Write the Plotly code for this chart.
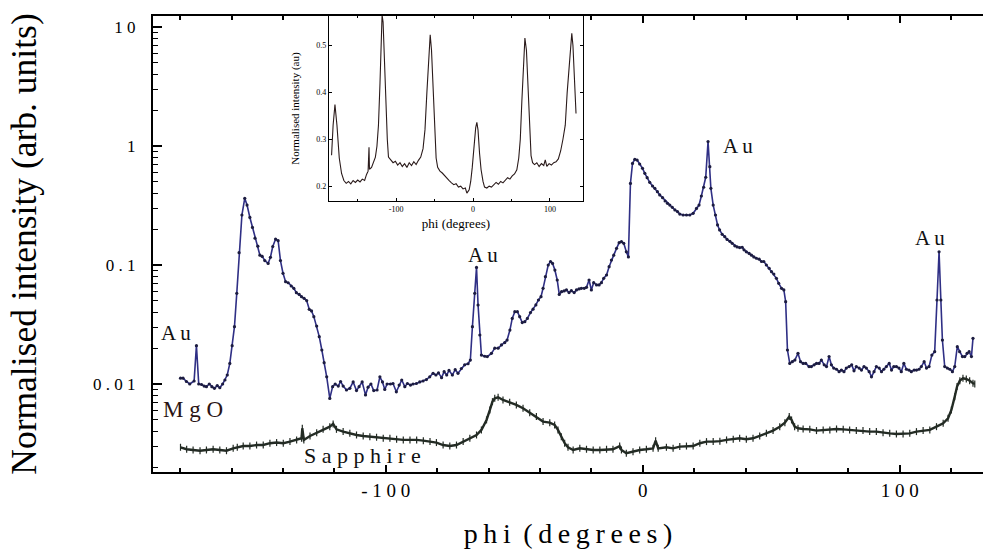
import math
import plotly.graph_objects as go

# ---------------- data ----------------
mgo_phi = [-179.9, -178.9, -177.6, -176.3, -174.6, -173.7, -172.8, -171.7, -170.7, -169.8,
           -168.7, -167.7, -166.7, -165.6, -164.6, -163.5, -162.6, -161.7, -160.7, -159.8,
           -158.9, -158.0, -157.1, -156.0, -154.9, -154.0, -152.9, -151.9, -150.9, -149.8,
           -149.0, -148.1, -147.1, -145.8, -144.9, -144.0, -142.9, -141.9, -141.0, -140.0,
           -139.0, -138.0, -136.8, -135.8, -134.8, -133.7, -132.8, -131.8, -130.8, -129.8,
           -128.9, -128.0, -126.9, -125.9, -124.9, -124.0, -123.0, -121.8, -120.7, -119.7,
           -118.5, -117.6, -116.6, -115.3, -114.0, -112.7, -111.4, -110.4, -109.2, -107.9,
           -106.9, -105.8, -104.7, -103.4, -102.3, -101.3, -100.4, -99.5, -98.2, -97.2,
           -95.9, -94.8, -93.8, -92.6, -91.6, -90.4, -89.4, -88.1, -86.8, -85.5,
           -84.2, -82.9, -81.6, -80.5, -79.5, -78.3, -77.3, -76.3, -75.4, -74.1,
           -73.0, -71.9, -70.6, -69.3, -68.0, -67.1, -66.3, -65.4, -64.7, -64.1,
           -63.4, -62.8, -61.5, -60.5, -58.9, -57.6, -56.3, -55.0, -53.7, -52.8,
           -51.7, -50.8, -49.8, -48.8, -47.9, -46.9, -45.9, -44.9, -43.7, -42.7,
           -41.6, -40.6, -39.6, -38.8, -37.9, -36.8, -35.9, -35.1, -34.2, -33.3,
           -32.5, -31.6, -30.6, -29.7, -28.7, -27.8, -26.7, -25.8, -24.8, -23.9,
           -22.8, -21.9, -20.9, -20.0, -19.1, -18.0, -17.0, -16.1, -15.2, -14.1,
           -13.1, -12.2, -11.3, -10.2, -9.2, -8.3, -7.4, -6.4, -5.6, -4.8,
           -4.0, -3.1, -2.2, -1.2, -0.1, 0.8, 1.7, 2.7, 3.8, 4.7,
           5.7, 6.6, 7.7, 8.7, 9.6, 10.5, 11.5, 12.5, 13.5, 14.4,
           15.7, 17.0, 18.3, 19.6, 20.9, 21.9, 22.8, 23.7, 24.5, 25.4,
           26.1, 26.5, 27.4, 28.3, 29.1, 29.9, 30.9, 31.9, 32.8, 33.9,
           34.8, 35.8, 36.7, 37.7, 38.7, 39.4, 40.3, 41.4, 42.3, 43.2,
           44.2, 45.3, 46.2, 47.1, 48.1, 49.2, 50.1, 51.0, 52.0, 52.9,
           54.0, 54.9, 55.6, 56.3, 57.2, 58.2, 59.2, 60.4, 61.4, 62.4,
           63.4, 64.7, 65.6, 66.7, 67.6, 68.6, 69.5, 70.6, 71.5, 72.5,
           73.4, 74.3, 75.4, 76.4, 77.3, 78.3, 79.2, 80.3, 81.3, 82.2,
           83.1, 84.2, 85.1, 86.1, 87.0, 88.1, 89.0, 90.0, 90.9, 92.0,
           92.9, 93.8, 94.8, 95.9, 96.8, 97.7, 98.7, 99.7, 100.6, 101.6,
           102.6, 103.6, 104.5, 105.6, 106.5, 107.5, 108.4, 109.5, 110.4, 111.4,
           112.5, 113.6, 114.5, 115.3, 116.0, 116.6, 117.5, 118.5, 119.5, 120.5,
           121.4, 122.4, 123.3, 124.4, 125.3, 126.2, 127.0, 127.9, 128.5]
mgo_val = [0.0112, 0.0112, 0.0105, 0.0100, 0.0106, 0.0210, 0.0100, 0.0099, 0.0096, 0.0095,
           0.0100, 0.0095, 0.0092, 0.0097, 0.0093, 0.0100, 0.0108, 0.0119, 0.0149, 0.0210,
           0.0303, 0.0578, 0.127, 0.263, 0.363, 0.319, 0.251, 0.207, 0.168, 0.144,
           0.121, 0.118, 0.109, 0.103, 0.116, 0.143, 0.165, 0.160, 0.109, 0.0852,
           0.0724, 0.0709, 0.0666, 0.0637, 0.0585, 0.0566, 0.0542, 0.0525, 0.0502, 0.0424,
           0.0411, 0.0368, 0.0307, 0.0250, 0.0193, 0.0151, 0.0115, 0.00757, 0.0095, 0.0100,
           0.0096, 0.0105, 0.0096, 0.0089, 0.0092, 0.0104, 0.0088, 0.0095, 0.0104, 0.0081,
           0.0094, 0.0100, 0.0088, 0.0089, 0.0115, 0.0104, 0.0090, 0.0100, 0.0100, 0.0101,
           0.0086, 0.0098, 0.0108, 0.0095, 0.0101, 0.0098, 0.0100, 0.0101, 0.0104, 0.0106,
           0.0109, 0.0115, 0.0123, 0.0119, 0.0124, 0.0113, 0.0127, 0.0119, 0.0130, 0.0119,
           0.0132, 0.0123, 0.0135, 0.0145, 0.0148, 0.0159, 0.0303, 0.0578, 0.0955, 0.0461,
           0.0258, 0.0175, 0.0171, 0.0170, 0.0181, 0.0200, 0.0200, 0.0213, 0.0223, 0.0234,
           0.0284, 0.0356, 0.0405, 0.0405, 0.0368, 0.0328, 0.0334, 0.0356, 0.0398, 0.0425,
           0.0462, 0.0508, 0.0542, 0.0637, 0.0798, 0.100, 0.107, 0.103, 0.0907, 0.0748,
           0.0566, 0.0597, 0.0605, 0.0617, 0.0586, 0.0609, 0.0586, 0.0617, 0.0629, 0.0637,
           0.0637, 0.0649, 0.0748, 0.0617, 0.0711, 0.0680, 0.0680, 0.0711, 0.0773, 0.0824,
           0.0968, 0.110, 0.121, 0.138, 0.154, 0.157, 0.152, 0.129, 0.117, 0.485,
           0.714, 0.773, 0.762, 0.706, 0.649, 0.589, 0.542, 0.495, 0.461, 0.441,
           0.413, 0.388, 0.368, 0.345, 0.330, 0.319, 0.305, 0.290, 0.281, 0.268,
           0.263, 0.263, 0.263, 0.272, 0.299, 0.319, 0.380, 0.450, 0.546, 1.09,
           0.670, 0.441, 0.319, 0.263, 0.217, 0.197, 0.181, 0.173, 0.164, 0.158,
           0.152, 0.145, 0.142, 0.140, 0.141, 0.134, 0.129, 0.125, 0.121, 0.117,
           0.114, 0.112, 0.107, 0.107, 0.100, 0.0937, 0.0879, 0.0840, 0.0773, 0.0702,
           0.0637, 0.0617, 0.0492, 0.0193, 0.0149, 0.0154, 0.0159, 0.0181, 0.0154, 0.0149,
           0.0149, 0.0140, 0.0140, 0.0145, 0.0149, 0.0149, 0.0159, 0.0145, 0.0140, 0.0170,
           0.0145, 0.0136, 0.0133, 0.0127, 0.0131, 0.0127, 0.0136, 0.0140, 0.0145, 0.0129,
           0.0140, 0.0136, 0.0131, 0.0140, 0.0136, 0.0127, 0.0115, 0.0127, 0.0140, 0.0136,
           0.0127, 0.0133, 0.0140, 0.0149, 0.0131, 0.0140, 0.0140, 0.0136, 0.0127, 0.0149,
           0.0133, 0.0131, 0.0127, 0.0131, 0.0131, 0.0133, 0.0140, 0.0154, 0.0136, 0.0140,
           0.0175, 0.0187, 0.0508, 0.129, 0.0508, 0.0234, 0.0140, 0.0136, 0.0133, 0.0127,
           0.0140, 0.0206, 0.0187, 0.0170, 0.0170, 0.0181, 0.0187, 0.0170, 0.0242]

sap_phi = [-179.9, -177.5, -175.0, -172.3, -169.8, -167.2, -164.6, -162.0, -159.4, -157.8,
           -155.5, -152.9, -150.3, -147.7, -145.1, -142.5, -139.9, -137.3, -134.7, -132.8,
           -132.5, -131.9, -129.5, -126.9, -124.4, -121.8, -120.5, -119.2, -116.6, -114.0,
           -111.4, -108.8, -106.2, -103.6, -101.0, -98.4, -95.8, -93.2, -90.6, -88.0,
           -85.4, -82.8, -80.3, -77.7, -75.1, -72.5, -69.9, -67.3, -64.7, -62.8,
           -60.8, -59.5, -58.5, -57.6, -56.3, -54.4, -51.8, -49.2, -46.6, -44.0,
           -41.4, -38.8, -36.2, -34.3, -33.0, -31.7, -30.4, -29.1, -27.1, -24.5,
           -21.9, -19.3, -16.7, -14.1, -11.6, -9.0, -8.3, -6.4, -3.8, -1.2,
           1.4, 4.0, 5.0, 6.0, 9.2, 11.8, 14.4, 17.0, 19.6, 22.2,
           24.8, 27.4, 30.0, 32.6, 35.2, 37.7, 40.3, 42.9, 45.5, 48.1,
           50.7, 53.3, 55.3, 57.0, 57.9, 59.1, 60.4, 62.4, 65.0, 67.6,
           70.2, 72.8, 75.4, 78.0, 80.5, 83.1, 85.7, 88.3, 90.9, 93.5,
           96.1, 98.7, 101.3, 103.9, 106.5, 109.1, 111.7, 114.3, 116.9, 118.8,
           120.1, 121.4, 122.3, 123.4, 124.6, 125.9, 127.2, 128.5, 129.2]
sap_val = [0.00294, 0.00283, 0.00279, 0.00275, 0.00279, 0.00283, 0.00279, 0.00275, 0.00288, 0.00294,
           0.00301, 0.00301, 0.00307, 0.00307, 0.00318, 0.00322, 0.00318, 0.00328, 0.00339, 0.00350,
           0.00425, 0.00339, 0.00366, 0.00390, 0.00416, 0.00438, 0.00462, 0.00416, 0.00398, 0.00385,
           0.00373, 0.00366, 0.00361, 0.00357, 0.00350, 0.00350, 0.00343, 0.00339, 0.00339, 0.00339,
           0.00334, 0.00328, 0.00322, 0.00307, 0.00301, 0.00307, 0.00328, 0.00350, 0.00373, 0.00411,
           0.00499, 0.00605, 0.00711, 0.00759, 0.00773, 0.00734, 0.00702, 0.00667, 0.00625, 0.00574,
           0.00532, 0.00483, 0.00473, 0.00453, 0.00411, 0.00361, 0.00318, 0.00294, 0.00279, 0.00288,
           0.00283, 0.00279, 0.00279, 0.00283, 0.00283, 0.00301, 0.00279, 0.00262, 0.00270, 0.00279,
           0.00283, 0.00288, 0.00334, 0.00288, 0.00294, 0.00288, 0.00298, 0.00301, 0.00301, 0.00318,
           0.00328, 0.00328, 0.00331, 0.00339, 0.00343, 0.00350, 0.00343, 0.00350, 0.00366, 0.00385,
           0.00406, 0.00438, 0.00473, 0.00532, 0.00499, 0.00438, 0.00425, 0.00419, 0.00416, 0.00406,
           0.00411, 0.00411, 0.00419, 0.00416, 0.00411, 0.00406, 0.00406, 0.00398, 0.00398, 0.00390,
           0.00385, 0.00380, 0.00380, 0.00385, 0.00398, 0.00406, 0.00411, 0.00438, 0.00468, 0.00515,
           0.00605, 0.00783, 0.00951, 0.01067, 0.01117, 0.01102, 0.01067, 0.01014, 0.01002]

inset_phi = [-184, -182, -179.6, -177, -174, -171, -168, -165, -162, -159,
             -156, -153, -150, -147, -144, -141, -138.5, -136.5, -135.3, -134.7,
             -132, -129, -127, -125, -123, -121, -119.5, -118.3, -117, -115.5,
             -113.5, -111.5, -110, -107, -104, -101, -98, -95, -92, -89,
             -86, -83, -80, -77, -74, -71, -68, -65, -62.5, -60,
             -57.5, -55.7, -54, -52, -50, -48, -46, -43, -40, -37,
             -34, -31, -28, -25, -22, -19, -16, -13, -10, -8,
             -5, -3, -1, 1.5, 3.5, 5, 6.5, 8.5, 10.5, 13,
             15, 18, 21, 24, 27, 30, 33, 36, 39, 42,
             45, 48, 51, 54, 57, 59.5, 61.5, 63.5, 65.5, 67.5,
             69.5, 71.5, 73.5, 75.5, 77.5, 80, 83, 86, 89, 92,
             94, 96, 99, 102, 105, 108, 111, 114, 117, 120,
             122.5, 125, 127, 128.5, 130, 132, 134]
inset_val = [0.266, 0.330, 0.374, 0.330, 0.260, 0.227, 0.212, 0.206, 0.210, 0.205,
             0.212, 0.208, 0.213, 0.209, 0.215, 0.212, 0.225, 0.232, 0.283, 0.236,
             0.240, 0.252, 0.262, 0.285, 0.330, 0.420, 0.520, 0.565, 0.550, 0.470,
             0.380, 0.300, 0.262, 0.257, 0.250, 0.253, 0.245, 0.250, 0.242, 0.248,
             0.240, 0.250, 0.244, 0.252, 0.246, 0.255, 0.262, 0.280, 0.320, 0.400,
             0.480, 0.523, 0.490, 0.400, 0.310, 0.260, 0.240, 0.232, 0.228, 0.222,
             0.218, 0.212, 0.207, 0.203, 0.205, 0.198, 0.200, 0.194, 0.196, 0.185,
             0.192, 0.210, 0.240, 0.290, 0.325, 0.336, 0.320, 0.270, 0.235, 0.210,
             0.198, 0.196, 0.200, 0.198, 0.203, 0.208, 0.204, 0.210, 0.207, 0.212,
             0.218, 0.215, 0.222, 0.226, 0.235, 0.260, 0.300, 0.380, 0.470, 0.516,
             0.490, 0.410, 0.320, 0.265, 0.250, 0.246, 0.250, 0.242, 0.248, 0.244,
             0.256, 0.242, 0.248, 0.245, 0.250, 0.252, 0.258, 0.275, 0.300, 0.330,
             0.400, 0.460, 0.510, 0.526, 0.500, 0.430, 0.355]

y_tickvals = [0.01, 0.1, 1, 10]
y_ticktext = ["0 . 0 1", "0 . 1", "1", "1 0"]
x_tickvals = [-100, 0, 100]
x_ticktext = ["- 1 0 0", "0", "1 0 0"]
inset_x_tickvals = [-100, 0, 100]
inset_x_ticktext = ["-100", "0", "100"]
inset_y_tickvals = [0.2, 0.3, 0.4, 0.5]
inset_y_ticktext = ["0.2", "0.3", "0.4", "0.5"]

label_text = ["A u", "M g O", "S a p p h i r e", "A u", "A u", "A u"]
label_phi = [-181.7, -175.0, -109.0, -62.3, 37.0, 111.7]
label_val = [0.0268, 0.00605, 0.00253, 0.121, 1.0, 0.169]
label_size = [21, 23, 22, 21, 21, 21]
label_color = ["#111111", "#2a1414", "#111111", "#111111", "#111111", "#111111"]

# ---------------- figure ----------------
SERIF = "Liberation Serif, Times New Roman, serif"
fig = go.Figure()

fig.add_trace(go.Scatter(
    x=sap_phi, y=sap_val, mode="lines+markers",
    line=dict(color="#232b24", width=2.4),
    marker=dict(symbol="line-ns", size=5, line=dict(color="#232b24", width=1.2)),
    showlegend=False, xaxis="x", yaxis="y"))

fig.add_trace(go.Scatter(
    x=mgo_phi, y=mgo_val, mode="lines+markers",
    line=dict(color="#2f2f85", width=1.6),
    marker=dict(symbol="circle", size=3.2, color="#1c1c40"),
    showlegend=False, xaxis="x", yaxis="y"))

fig.add_trace(go.Scatter(
    x=inset_phi, y=inset_val, mode="lines",
    line=dict(color="#2a1a1a", width=1.1),
    showlegend=False, xaxis="x2", yaxis="y2"))

annotations = []
for t, px, pv, s, c in zip(label_text, label_phi, label_val, label_size, label_color):
    annotations.append(dict(x=px, y=math.log10(pv), xref="x", yref="y", text=t,
                            showarrow=False, font=dict(family=SERIF, size=s, color=c)))

minor_y = [m * 10.0 ** e for e in range(-3, 2) for m in range(2, 10)]

fig.update_layout(
    width=983, height=555,
    margin=dict(l=153, r=0, t=16, b=83),
    paper_bgcolor="white", plot_bgcolor="white",
    font=dict(family=SERIF, color="black"),
    annotations=annotations,
    xaxis=dict(
        domain=[0, 1], anchor="y", automargin=False,
        range=[-190.6, 132.4],
        showline=True, linecolor="black", linewidth=2, mirror="ticks",
        ticks="inside", ticklen=7, tickwidth=1.5, tickcolor="black",
        tickvals=x_tickvals, ticktext=x_ticktext,
        tickfont=dict(family=SERIF, size=19, color="black"),
        minor=dict(tickvals=list(range(-180, 140, 20)), ticks="inside",
                   ticklen=4, tickwidth=1.5, tickcolor="black", showgrid=False),
        showgrid=False, zeroline=False,
        title=dict(text="p\u2009h\u2009i\u2009 (\u2009d\u2009e\u2009g\u2009r\u2009e\u2009e\u2009s\u2009)",
                   font=dict(family=SERIF, size=28, color="black"), standoff=24),
    ),
    yaxis=dict(
        domain=[0, 1], anchor="x", automargin=False,
        type="log", range=[-2.7395, 1.0924],
        showline=True, linecolor="black", linewidth=2, mirror=False,
        ticks="inside", ticklen=9, tickwidth=1.5, tickcolor="black",
        tickvals=y_tickvals, ticktext=y_ticktext,
        tickfont=dict(family=SERIF, size=17, color="black"),
        ticklabelstandoff=12,
        minor=dict(tickvals=minor_y, ticks="inside", ticklen=5, tickwidth=1.2,
                   tickcolor="black", showgrid=False),
        showgrid=False, zeroline=False,
        title=dict(text="Normalised intensity (arb. units)",
                   font=dict(family=SERIF, size=35.5, color="black"), standoff=46),
    ),
    xaxis2=dict(
        domain=[0.212, 0.518], anchor="y2", automargin=False,
        range=[-187.4, 143],
        showline=True, linecolor="black", linewidth=1, mirror="ticks",
        ticks="inside", ticklen=3, tickwidth=1, tickcolor="black",
        tickvals=inset_x_tickvals, ticktext=inset_x_ticktext,
        tickfont=dict(family=SERIF, size=8, color="black"),
        minor=dict(tickvals=[-150, -50, 50], ticks="inside", ticklen=2,
                   tickwidth=1, tickcolor="black", showgrid=False),
        showgrid=False, zeroline=False,
        title=dict(text="phi (degrees)", font=dict(family=SERIF, size=13, color="black"),
                   standoff=6),
    ),
    yaxis2=dict(
        domain=[0.594, 1.0], anchor="x2", automargin=False,
        range=[0.168, 0.563],
        showline=True, linecolor="black", linewidth=1, mirror="ticks",
        ticks="inside", ticklen=3, tickwidth=1, tickcolor="black",
        tickvals=inset_y_tickvals, ticktext=inset_y_ticktext,
        tickfont=dict(family=SERIF, size=8, color="black"),
        showgrid=False, zeroline=False,
        title=dict(text="Normalised intensity (au)",
                   font=dict(family=SERIF, size=11, color="black"), standoff=14),
    ),
)

fig.write_html("out.html",
               config={"displayModeBar": False},
               post_script="document.body.style.margin='0';document.body.style.padding='0';")
